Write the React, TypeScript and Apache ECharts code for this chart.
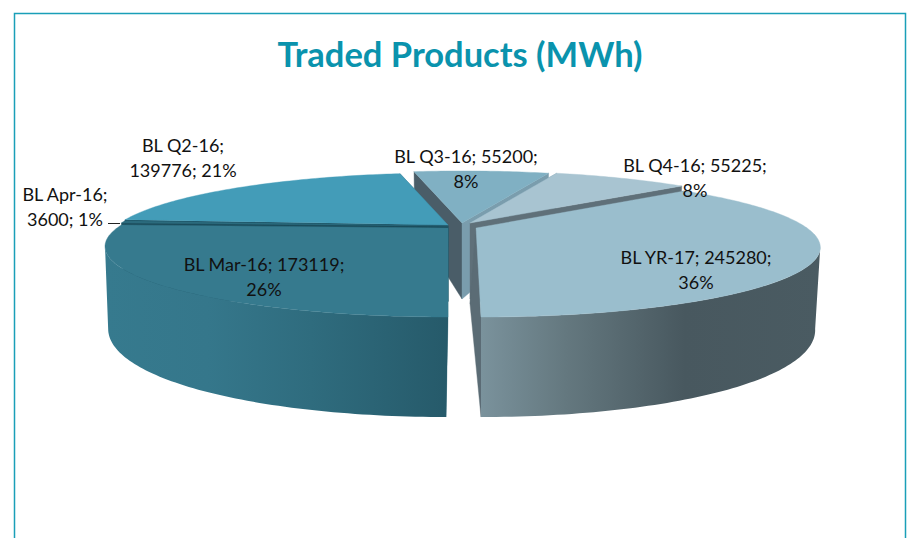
import React, { useEffect, useRef } from "react";
import * as echarts from "echarts";

const categories = ["BL Mar-16", "BL Apr-16", "BL Q2-16", "BL Q3-16", "BL Q4-16", "BL YR-17"];
const values = [173119, 3600, 139776, 55200, 55225, 245280];
const titleText = "Traded Products (MWh)";

// Painter's order: back slices first.
const drawOrder = [3, 4, 2, 5, 1, 0];

const CX = 462;
const CY = 226;
const RX = 331;
const RY = 65.7;
const PERSP = 0.262;
const START_DEG = 180;
// Angles at which the side wall turns away from the viewer.
const FOLD_A = (Math.acos(-PERSP) * 180) / Math.PI;
const FOLD_B = 360 - FOLD_A;

type Look = {
  dx: number; dy: number; lean: number; bottomLean: number; apexShift: number;
  top: string; wallStart: string; wallEnd: string; rim: [number, string][];
};

const looks: Look[] = [
  { dx: -14, dy: 2, lean: 0, bottomLean: -2, apexShift: -2, top: "#367a8e", wallStart: "#2a6071", wallEnd: "#1f5060",
    rim: [[0, "#367a8e"], [0.3, "#35778b"], [0.6, "#2f6c7e"], [1, "#265a6a"]] },
  { dx: -14, dy: 0, lean: 0, bottomLean: 0, apexShift: 0, top: "#2c6b7d", wallStart: "#1b4c5b", wallEnd: "#1b4c5b",
    rim: [[0, "#2c6b7d"], [1, "#2c6b7d"]] },
  { dx: -14, dy: -1, lean: 0, bottomLean: 0, apexShift: 0, top: "#439cb8", wallStart: "#1c4f5f", wallEnd: "#2f6b7f",
    rim: [[0, "#2f6b7f"], [1, "#2f6b7f"]] },
  { dx: 0, dy: -3, lean: 0, bottomLean: 0, apexShift: 0, top: "#80b0c3", wallStart: "#4a5d68", wallEnd: "#7a9dad",
    rim: [[0, "#5d7a88"], [1, "#5d7a88"]] },
  { dx: 8, dy: -3, lean: 0, bottomLean: 0, apexShift: 0, top: "#a8c4d1", wallStart: "#7a9dad", wallEnd: "#5f7079",
    rim: [[0, "#6a7f89"], [1, "#6a7f89"]] },
  { dx: 14, dy: 2, lean: 5, bottomLean: 0, apexShift: -6, top: "#9abecd", wallStart: "#5f7079", wallEnd: "#5b6c75",
    rim: [[0, "#7a929c"], [0.25, "#64787f"], [0.6, "#48585f"], [1, "#4a5b62"]] },
];

const total = values.reduce((a, b) => a + b, 0);
const percent = (v: number) => Math.round((v / total) * 100);

function buildAngles() {
  const out: [number, number][] = [];
  let a = START_DEG;
  for (const v of values) {
    const b = a + (v / total) * 360;
    out.push([a, b]);
    a = b;
  }
  return out;
}
const angles = buildAngles();

function renderSlice(_params: any, api: any) {
  const i = api.value(0) as number;
  const look = looks[i];
  const [a0, a1] = angles[i];

  const point = (deg: number, bottom: boolean) => {
    const t = (deg * Math.PI) / 180;
    const u = Math.sin(t);
    const v = -Math.cos(t);
    const d = 1 - PERSP * v;
    let x = (RX * u) / d;
    let y = (RY * v) / d;
    if (bottom) {
      x = x * 0.985 + look.bottomLean;
      y += 76 + 24 * v;
    }
    return [CX + look.dx + x + look.lean * v, CY + look.dy + y];
  };
  const apexTop = [CX + look.dx, CY + look.dy];
  const apexBottom = [CX + look.dx + look.apexShift, CY + look.dy + 76];

  const arc = (from: number, to: number, bottom: boolean) => {
    const pts: number[][] = [];
    const n = Math.max(2, Math.ceil(Math.abs(to - from)));
    for (let k = 0; k <= n; k++) pts.push(point(from + ((to - from) * k) / n, bottom));
    return pts;
  };

  const flat = (points: number[][], fill: any) => ({
    type: "polygon",
    shape: { points },
    style: { fill, stroke: typeof fill === "string" ? fill : "none", lineWidth: typeof fill === "string" ? 0.4 : 0 },
  });

  const children: any[] = [
    flat([apexTop, point(a0, false), point(a0, true), apexBottom], look.wallStart),
    flat([apexTop, point(a1, false), point(a1, true), apexBottom], look.wallEnd),
  ];

  // Only the part of the side wall that faces the viewer is drawn.
  const norm0 = a0 % 360;
  const norm1 = norm0 + (a1 - a0);
  const from = Math.max(norm0, FOLD_A);
  const to = Math.min(norm1, FOLD_B);
  if (to > from) {
    const rimFill = new echarts.graphic.LinearGradient(
      0, 0, 1, 0,
      look.rim.map(([offset, color]) => ({ offset, color }))
    );
    children.push(flat([...arc(from, to, false), ...arc(to, from, true)], rimFill));
  }

  children.push(flat([apexTop, ...arc(a0, a1, false)], look.top));
  return { type: "group", children };
}

const labelFont = "Lato, 'Open Sans', sans-serif";
const labelLines = (i: number, breakAfterValue: boolean) => {
  const head = `${categories[i]}; ${values[i]};`;
  if (breakAfterValue) return `${head}\n${percent(values[i])}%`;
  return `${categories[i]};\n${values[i]}; ${percent(values[i])}%`;
};

const labelSpots: { i: number; x: number; y: number; wide: boolean }[] = [
  { i: 0, x: 264, y: 276, wide: true },
  { i: 1, x: 65, y: 206, wide: false },
  { i: 2, x: 183, y: 157, wide: false },
  { i: 3, x: 466, y: 168, wide: true },
  { i: 4, x: 695, y: 177, wide: true },
  { i: 5, x: 696, y: 269, wide: true },
];

export default function App() {
  const ref = useRef<HTMLDivElement>(null);
  useEffect(() => {
    if (!ref.current) return;
    const chart = echarts.init(ref.current, undefined, { renderer: "svg" });
    chart.setOption({
      animation: false,
      backgroundColor: "#ffffff",
      title: {
        text: titleText,
        left: 455,
        top: 31,
        textAlign: "center",
        textStyle: { color: "#0a93ad", fontFamily: labelFont, fontWeight: "bold", fontSize: 34.5 },
      },
      graphic: [
        {
          type: "polyline",
          z: 1,
          shape: { points: [[14.5, 538], [14.5, 13.5], [905.5, 13.5], [905.5, 538]] },
          style: { fill: "none", stroke: "#1a9fb8", lineWidth: 1.5 },
        },
        {
          type: "line",
          z: 20,
          shape: { x1: 108, y1: 223.5, x2: 120, y2: 223.5 },
          style: { stroke: "#222222", lineWidth: 1 },
        },
        ...labelSpots.map((s) => ({
          type: "text",
          z: 20,
          x: s.x,
          y: s.y,
          style: {
            text: labelLines(s.i, s.wide),
            font: `18px ${labelFont}`,
            fill: "#111111",
            align: "center",
            verticalAlign: "middle",
            lineHeight: 25,
          },
        })),
      ],
      series: [
        {
          type: "custom",
          coordinateSystem: "none",
          z: 5,
          silent: true,
          renderItem: renderSlice,
          data: drawOrder.map((i) => ({ name: categories[i], value: [i, values[i]] })),
        },
      ],
    });
    return () => chart.dispose();
  }, []);
  return <div ref={ref} style={{ position: "absolute", left: 0, top: 0, width: 917, height: 538 }} />;
}
